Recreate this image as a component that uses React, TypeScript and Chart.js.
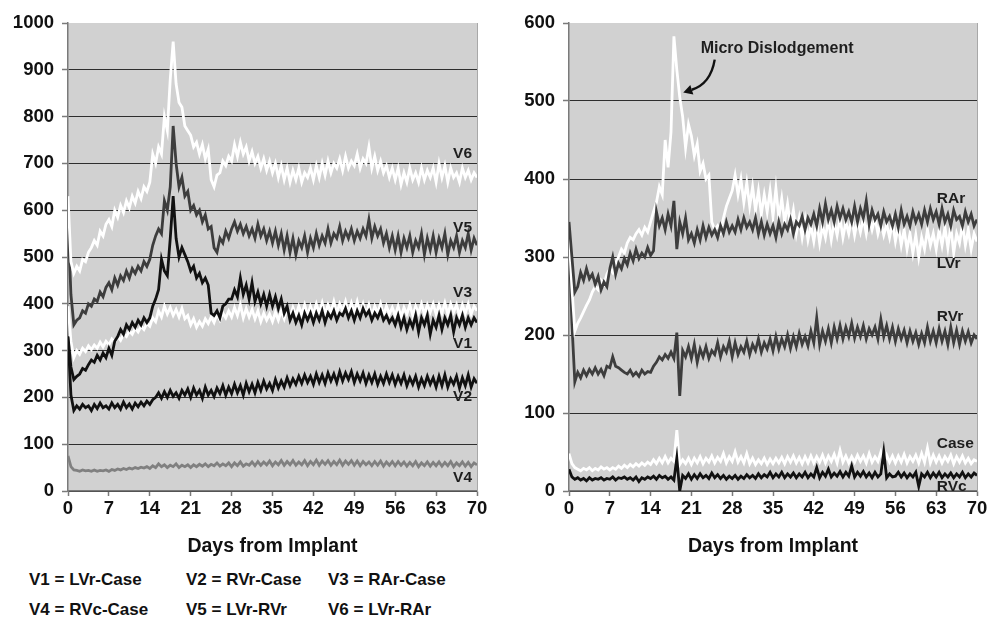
import React, { useEffect, useRef } from "react";
import { Chart, registerables } from "chart.js";

Chart.register(...registerables);

// sampling grid: every half day from 0 to 70
const DAYS: number[] = Array.from({ length: 141 }, (_, i) => i * 0.5);

// ---------- Left panel (V1..V6) ----------
const V6 = [
  630, 490, 465, 480, 470, 495, 490, 510, 520, 535, 525, 555, 545, 570,
  580, 565, 600, 585, 610, 595, 620, 605, 630, 615, 640, 625, 650, 640,
  660, 720, 700, 735, 720, 800, 770, 880, 960, 870, 830, 820, 780, 770,
  760, 735, 745, 720, 740, 710, 730, 665, 650, 675, 680, 705, 695, 715,
  705, 740, 715, 745, 720, 735, 705, 725, 700, 715, 690, 710, 685, 705,
  680, 700, 670, 695, 665, 690, 660, 685, 665, 690, 660, 680, 670, 690,
  665, 695, 670, 700, 675, 705, 680, 700, 690, 710, 685, 715, 690, 705,
  695, 720, 690, 710, 700, 735, 690, 715, 685, 705, 680, 695, 670, 690,
  665, 690, 655, 680, 660, 690, 665, 680, 660, 690, 665, 685, 670, 690,
  660, 700, 670, 695, 660, 690, 670, 680, 660, 690, 670, 685, 665, 680,
  670,
];
const V5 = [
  580, 420, 355, 365, 370, 385, 380, 400, 395, 410, 405, 425, 415, 435,
  445, 430, 455, 440, 460, 450, 470, 455, 475, 465, 480, 470, 490, 480,
  495, 525, 545, 560, 550, 620, 600, 650, 780, 700, 650, 670, 630, 640,
  600, 610, 590, 600, 575, 590, 560, 565, 520, 510, 540, 530, 555, 540,
  560, 575, 555, 570, 550, 565, 545, 560, 540, 570, 545, 560, 535, 555,
  530, 555, 525, 550, 515, 545, 510, 540, 505, 535, 520, 545, 510, 540,
  520, 550, 525, 545, 530, 560, 530, 550, 540, 565, 535, 555, 540, 560,
  535, 555, 540, 560, 545, 580, 540, 565, 545, 560, 530, 550, 520, 545,
  515, 545, 510, 540, 520, 545, 510, 535, 520, 550, 505, 540, 515, 545,
  510, 540, 520, 550, 505, 535, 520, 545, 510, 535, 520, 550, 515, 540,
  525,
];
const V3 = [
  395, 320, 285, 300, 292, 305, 298, 310, 302, 312, 305, 318, 308, 320,
  312, 325, 318, 330, 322, 335, 330, 342, 335, 348, 340, 352, 345, 358,
  352, 370, 362, 385, 372, 395, 378, 392, 375, 388, 372, 390, 368, 375,
  355, 368, 350, 362, 352, 368, 358, 372, 360, 378, 365, 380, 370, 385,
  372, 392, 375, 398, 370, 390, 372, 388, 368, 385, 362, 380, 365, 378,
  362, 382, 365, 385, 368, 390, 372, 392, 375, 395, 378, 398, 375, 395,
  378, 400, 380, 402, 378, 398, 382, 405, 380, 400, 385, 405, 380, 402,
  382, 405, 380, 400, 378, 398, 375, 395, 380, 400, 375, 395, 378, 392,
  375, 395, 372, 392, 378, 398, 375, 395, 380, 400, 378, 398, 382, 400,
  378, 398, 380, 402, 378, 400, 382, 398, 375, 398, 380, 400, 378, 395,
  385,
];
const V1 = [
  330, 265, 238, 245, 250, 262, 258, 270, 280, 275, 290, 280, 295, 285,
  305, 290, 320, 330, 345, 335, 355, 345, 360, 350, 365, 355, 370, 360,
  370, 395, 410, 430, 495, 470, 460, 540, 630, 540, 500, 520, 505, 490,
  470, 480, 455, 465, 445, 455, 440, 380, 375, 385, 370, 395, 400, 410,
  410, 430, 415, 455, 420, 440, 410, 445, 405, 425, 400, 420, 395, 420,
  395, 415, 390, 410, 380, 395, 365, 380, 360, 375, 355, 380, 365, 380,
  360, 380, 365, 385, 360, 380, 370, 385, 365, 380, 375, 390, 370, 385,
  365, 385, 370, 390, 375, 385, 365, 380, 370, 385, 365, 375, 360, 370,
  355, 375, 350, 370, 345, 365, 350, 375, 340, 370, 355, 375, 335, 365,
  350, 375, 345, 370, 355, 375, 340, 370, 355, 375, 350, 370, 355, 370,
  360,
];
const V2 = [
  330, 205, 172, 182, 175, 185, 178, 182, 172, 185, 176, 188, 178, 182,
  175, 188, 178, 185, 175, 190, 178, 186, 175, 188, 180, 190, 182, 192,
  185, 195, 200, 210, 198, 212, 200, 215, 202, 210, 198, 215, 205, 218,
  200, 220, 205, 215, 198, 222, 205, 215, 202, 220, 208, 225, 205, 222,
  208, 228, 210, 225, 205, 230, 212, 228, 210, 232, 215, 235, 218, 230,
  215, 238, 220, 235, 222, 242, 225, 240, 228, 245, 230, 248, 232, 245,
  228, 250, 232, 248, 230, 252, 235, 250, 232, 255, 235, 252, 238, 255,
  232, 250, 235, 252, 230, 248, 232, 250, 228, 245, 230, 250, 232, 248,
  228, 245, 230, 248, 225, 242, 228, 245, 222, 240, 225, 245, 228, 242,
  222, 245, 225, 248, 222, 240, 228, 245, 220, 242, 225, 248, 222, 240,
  230,
];
const V4 = [
  75, 52, 45, 44, 42, 45, 43, 44, 42, 45, 42, 44, 43, 45,
  42, 46, 44, 47, 45, 48, 46, 49, 47, 50, 48, 51, 49, 52,
  48, 54, 50, 58, 52, 56, 50, 55, 52, 58, 50, 55, 52, 56,
  50, 56, 52, 57, 53, 58, 52, 57, 54, 60, 53, 58, 54, 60,
  52, 60, 54, 62, 53, 58, 55, 62, 54, 63, 55, 62, 56, 64,
  54, 62, 56, 65, 55, 63, 56, 65, 55, 62, 56, 65, 54, 63,
  56, 66, 55, 64, 57, 65, 55, 63, 56, 66, 55, 64, 57, 65,
  55, 64, 54, 63, 56, 62, 54, 63, 55, 64, 53, 62, 55, 63,
  54, 63, 55, 62, 53, 61, 54, 63, 52, 60, 54, 62, 53, 61,
  54, 62, 53, 61, 54, 63, 52, 60, 54, 62, 53, 61, 52, 60,
  56,
];

// ---------- Right panel (electrodes) ----------
const LVR = [
  330, 260, 205, 215, 222, 230, 238, 245, 255, 262, 258, 270, 265, 278,
  285, 280, 292, 300, 310, 305, 318, 325, 322, 330, 335, 328, 338, 332,
  345, 358, 370, 390, 380, 450, 415, 460, 583, 540, 505, 480, 440, 470,
  455, 430, 445, 410, 420, 400, 405, 345, 335, 340, 332, 350, 365, 375,
  385, 405, 380, 400, 370, 395, 365, 390, 360, 385, 355, 380, 358, 385,
  352, 388, 350, 375, 345, 368, 340, 360, 330, 350, 325, 348, 322, 340,
  320, 345, 318, 340, 325, 348, 322, 345, 328, 350, 325, 345, 330, 350,
  328, 348, 332, 350, 330, 352, 335, 350, 330, 345, 328, 342, 325, 345,
  320, 340, 315, 335, 310, 330, 305, 328, 300, 325, 310, 335, 315, 330,
  310, 335, 315, 338, 312, 340, 305, 330, 318, 342, 315, 335, 310, 330,
  320,
];
const RAR = [
  345, 300, 255, 262, 280, 270, 285, 272, 278, 265, 275, 258, 268, 262,
  285, 300, 278, 292, 285, 298, 290, 305, 295, 310, 298, 305, 300, 312,
  302, 308, 358, 340, 350, 335, 355, 340, 372, 310, 345, 330, 350, 322,
  330, 318, 335, 322, 340, 325, 338, 328, 335, 325, 340, 330, 345, 332,
  340, 332, 348, 335, 350, 338, 345, 335, 350, 330, 345, 328, 342, 330,
  340, 325, 345, 330, 342, 335, 348, 330, 345, 340, 352, 335, 350, 342,
  355, 340, 362, 345, 368, 348, 360, 345, 365, 350, 362, 348, 358, 345,
  365, 345, 362, 350, 372, 342, 360, 348, 355, 340, 358, 345, 352, 340,
  355, 338, 360, 342, 352, 340, 358, 345, 355, 342, 360, 345, 362, 348,
  358, 342, 362, 345, 355, 340, 360, 348, 352, 340, 358, 345, 355, 340,
  348,
];
const RVR = [
  330, 215, 140, 152, 145, 155, 148, 156, 150, 158, 150, 156, 148, 160,
  158, 172, 160, 158, 155, 152, 150, 155, 148, 152, 147, 155, 150, 153,
  152, 160, 165, 172, 168, 175, 170, 178, 170, 203, 122, 180, 172, 185,
  170, 188, 165, 182, 172, 185, 170, 180, 175, 190, 172, 185, 178, 192,
  172, 190, 175, 185, 178, 192, 175, 188, 180, 195, 178, 190, 182, 195,
  180, 198, 182, 195, 185, 200, 183, 198, 185, 202, 188, 198, 186, 205,
  190, 222, 188, 205, 192, 208, 190, 210, 195, 212, 195, 210, 198, 215,
  196, 210, 198, 212, 195, 208, 200, 210, 195, 220, 198, 212, 195, 210,
  192, 208, 195, 206, 190, 205, 192, 203, 188, 202, 190, 210, 192, 205,
  190, 208, 192, 205, 188, 210, 190, 206, 188, 205, 192, 204, 190, 200,
  195,
];
const CASE = [
  48, 35, 30, 28, 26, 29, 27, 30, 26, 29, 27, 31, 28, 30,
  27, 30, 28, 32, 29, 33, 30, 34, 31, 35, 32, 36, 33, 37,
  34, 40, 35, 42, 36, 44, 36, 42, 38, 78, 34, 40, 35, 42,
  34, 42, 36, 44, 35, 42, 37, 45, 36, 43, 38, 48, 36, 44,
  38, 50, 37, 44, 36, 48, 35, 42, 34, 40, 35, 42, 34, 41,
  35, 42, 36, 43, 35, 44, 37, 45, 36, 43, 35, 44, 36, 45,
  36, 44, 37, 46, 36, 45, 38, 47, 36, 52, 37, 45, 36, 44,
  37, 46, 38, 45, 36, 48, 37, 44, 38, 50, 36, 46, 37, 45,
  36, 45, 37, 47, 36, 44, 38, 46, 36, 48, 37, 55, 36, 46,
  37, 45, 36, 44, 38, 46, 35, 44, 37, 45, 36, 42, 35, 40,
  38,
];
const RVC = [
  28, 18, 15, 17, 14, 16, 13, 17, 14, 16, 15, 17, 14, 16,
  15, 18, 14, 17, 16, 18, 15, 17, 14, 18, 12, 17, 15, 18,
  16, 19, 15, 20, 17, 19, 15, 18, 14, 42, 0, 20, 16, 22,
  15, 21, 16, 22, 17, 20, 16, 23, 17, 21, 16, 20, 15, 19,
  16, 20, 15, 19, 16, 21, 17, 20, 16, 22, 17, 21, 18, 24,
  17, 22, 18, 24, 17, 22, 18, 23, 17, 22, 18, 24, 17, 22,
  18, 30, 17, 24, 19, 28, 18, 23, 19, 25, 18, 24, 19, 32,
  18, 24, 19, 25, 18, 23, 17, 24, 18, 22, 50, 17, 22, 18,
  19, 24, 18, 23, 17, 22, 18, 24, 6, 22, 18, 24, 17, 23,
  18, 24, 17, 22, 18, 23, 17, 22, 18, 24, 17, 22, 18, 23,
  20,
];

const X_MAX = 70;
const X_STEP = 7;
const LEFT_Y_MAX = 1000;
const RIGHT_Y_MAX = 600;
const Y_STEP = 100;
const X_TITLE = "Days from Implant";

const LEGEND_ROWS = [
  ["V1 = LVr-Case", "V2 = RVr-Case", "V3 = RAr-Case"],
  ["V4 = RVc-Case", "V5 = LVr-RVr", "V6 = LVr-RAr"],
];

const FONT = '"Liberation Sans", Arial, Helvetica, sans-serif';
const WHITE = "#ffffff";
const DARK = "#3d3d3d";
const BLACK = "#111111";
const GRAY = "#808080";

type Lbl = { text: string; day: number; value: number };

function toPts(arr: number[]) {
  return DAYS.map((d, i) => ({ x: d, y: arr[i] }));
}

function ds(label: string, arr: number[], color: string) {
  return {
    label,
    data: toPts(arr),
    borderColor: color,
    backgroundColor: color,
    borderWidth: 2.8,
    pointRadius: 0,
    tension: 0,
    fill: false,
  };
}

const bgPlugin = {
  id: "plotBg",
  beforeDraw(chart: any) {
    const { ctx, chartArea: a } = chart;
    ctx.save();
    ctx.fillStyle = "#d1d1d1";
    ctx.fillRect(a.left, a.top, a.right - a.left, a.bottom - a.top);
    ctx.restore();
  },
  afterDraw(chart: any) {
    const { ctx, chartArea: a } = chart;
    ctx.save();
    ctx.strokeStyle = "#a8a8a8";
    ctx.lineWidth = 1;
    ctx.beginPath();
    ctx.moveTo(a.right + 0.5, a.top);
    ctx.lineTo(a.right + 0.5, a.bottom);
    ctx.stroke();
    ctx.restore();
  },
};

function labelPlugin(labels: Lbl[], arrow?: { text: Lbl; from: [number, number]; ctrl: [number, number]; to: [number, number] }) {
  return {
    id: "seriesLabels",
    afterDatasetsDraw(chart: any) {
      const { ctx } = chart;
      const xs = chart.scales.x;
      const ys = chart.scales.y;
      ctx.save();
      ctx.fillStyle = "#1e1e1e";
      ctx.font = `bold 15.5px ${FONT}`;
      ctx.textAlign = "left";
      ctx.textBaseline = "middle";
      for (const l of labels) {
        ctx.fillText(l.text, xs.getPixelForValue(l.day), ys.getPixelForValue(l.value));
      }
      if (arrow) {
        ctx.font = `bold 16px ${FONT}`;
        ctx.textAlign = "center";
        ctx.fillText(arrow.text.text, xs.getPixelForValue(arrow.text.day), ys.getPixelForValue(arrow.text.value));
        const fx = xs.getPixelForValue(arrow.from[0]);
        const fy = ys.getPixelForValue(arrow.from[1]);
        const cx = xs.getPixelForValue(arrow.ctrl[0]);
        const cy = ys.getPixelForValue(arrow.ctrl[1]);
        const tx = xs.getPixelForValue(arrow.to[0]);
        const ty = ys.getPixelForValue(arrow.to[1]);
        const ang = Math.atan2(ty - cy, tx - cx);
        const head = 9;
        const bx = tx - Math.cos(ang) * head;
        const by = ty - Math.sin(ang) * head;
        ctx.strokeStyle = "#111";
        ctx.lineWidth = 2.4;
        ctx.beginPath();
        ctx.moveTo(fx, fy);
        ctx.quadraticCurveTo(cx, cy, bx, by);
        ctx.stroke();
        ctx.fillStyle = "#111";
        ctx.beginPath();
        ctx.moveTo(tx, ty);
        ctx.lineTo(bx + Math.cos(ang + Math.PI / 2) * 5, by + Math.sin(ang + Math.PI / 2) * 5);
        ctx.lineTo(bx + Math.cos(ang - Math.PI / 2) * 5, by + Math.sin(ang - Math.PI / 2) * 5);
        ctx.closePath();
        ctx.fill();
      }
      ctx.restore();
    },
  };
}

function makeOptions(yMax: number, yWidth: number, padRight: number) {
  return {
    responsive: false,
    animation: false as const,
    events: [] as any[],
    layout: { padding: { left: 0, top: 23, right: padRight, bottom: 0 } },
    plugins: { legend: { display: false }, tooltip: { enabled: false } },
    scales: {
      x: {
        type: "linear" as const,
        min: 0,
        max: X_MAX,
        ticks: {
          stepSize: X_STEP,
          autoSkip: false,
          maxRotation: 0,
          color: "#111",
          padding: 2,
          font: { family: FONT, size: 18.5, weight: "bold" as const },
          callback: (v: any) => String(v),
        },
        grid: {
          drawOnChartArea: false,
          drawTicks: true,
          tickLength: 5,
          tickColor: "#7a7a7a",
          tickWidth: 1.5,
        },
        border: { color: "#7a7a7a", width: 1.5 },
        title: {
          display: true,
          text: X_TITLE,
          color: "#111",
          font: { family: FONT, size: 19.5, weight: "bold" as const },
          padding: { top: 0, bottom: 2 },
        },
        afterFit: (s: any) => {
          s.height = 69;
        },
      },
      y: {
        type: "linear" as const,
        min: 0,
        max: yMax,
        ticks: {
          stepSize: Y_STEP,
          color: "#111",
          padding: 8,
          font: { family: FONT, size: 18.5, weight: "bold" as const },
          callback: (v: any) => String(v),
        },
        grid: {
          color: (c: any) => (c.tick && c.tick.value === yMax ? "rgba(0,0,0,0)" : "#2e2e2e"),
          lineWidth: 1,
          drawTicks: true,
          tickLength: 6,
          tickColor: "#7a7a7a",
          tickWidth: 1.5,
        },
        border: { color: "#7a7a7a", width: 1.5 },
        afterFit: (s: any) => {
          s.width = yWidth;
        },
      },
    },
  };
}

export default function App() {
  const leftRef = useRef<HTMLCanvasElement | null>(null);
  const rightRef = useRef<HTMLCanvasElement | null>(null);

  useEffect(() => {
    if (!leftRef.current || !rightRef.current) return;
    const left = new Chart(leftRef.current, {
      type: "line",
      data: {
        datasets: [
          ds("V6", V6, WHITE),
          ds("V5", V5, DARK),
          ds("V1", V1, BLACK),
          ds("V3", V3, WHITE),
          ds("V2", V2, BLACK),
          ds("V4", V4, GRAY),
        ],
      },
      options: makeOptions(LEFT_Y_MAX, 68, 23) as any,
      plugins: [
        bgPlugin,
        labelPlugin([
          { text: "V6", day: 65.9, value: 720 },
          { text: "V5", day: 65.9, value: 562 },
          { text: "V3", day: 65.9, value: 423 },
          { text: "V1", day: 65.9, value: 314 },
          { text: "V2", day: 65.9, value: 201 },
          { text: "V4", day: 65.9, value: 28 },
        ]),
      ],
    });
    const right = new Chart(rightRef.current, {
      type: "line",
      data: {
        datasets: [
          ds("RAr", RAR, DARK),
          ds("LVr", LVR, WHITE),
          ds("RVr", RVR, DARK),
          ds("RVc", RVC, BLACK),
          ds("Case", CASE, WHITE),
        ],
      },
      options: makeOptions(RIGHT_Y_MAX, 69, 21) as any,
      plugins: [
        bgPlugin,
        labelPlugin(
          [
            { text: "RAr", day: 63.1, value: 375 },
            { text: "LVr", day: 63.1, value: 292 },
            { text: "RVr", day: 63.1, value: 223 },
            { text: "Case", day: 63.1, value: 60 },
            { text: "RVc", day: 63.1, value: 6 },
          ],
          {
            text: { text: "Micro Dislodgement", day: 35.7, value: 567 },
            from: [25.0, 553],
            ctrl: [24.3, 522],
            to: [19.6, 511],
          }
        ),
      ],
    });
    return () => {
      left.destroy();
      right.destroy();
    };
  }, []);

  return (
    <div style={{ position: "absolute", left: 0, top: 0, width: 998, height: 620, background: "#fff", fontFamily: FONT }}>
      <canvas ref={leftRef} width={500} height={560} style={{ position: "absolute", left: 0, top: 0, width: 500, height: 560 }} />
      <canvas ref={rightRef} width={498} height={560} style={{ position: "absolute", left: 500, top: 0, width: 498, height: 560 }} />
      {LEGEND_ROWS.map((row, r) =>
        row.map((t, c) => (
          <div
            key={`${r}-${c}`}
            style={{
              position: "absolute",
              left: [29, 186, 328][c],
              top: 569 + r * 30,
              lineHeight: "22px",
              fontSize: 17,
              fontWeight: "bold",
              color: "#111",
              whiteSpace: "nowrap",
            }}
          >
            {t}
          </div>
        ))
      )}
    </div>
  );
}
